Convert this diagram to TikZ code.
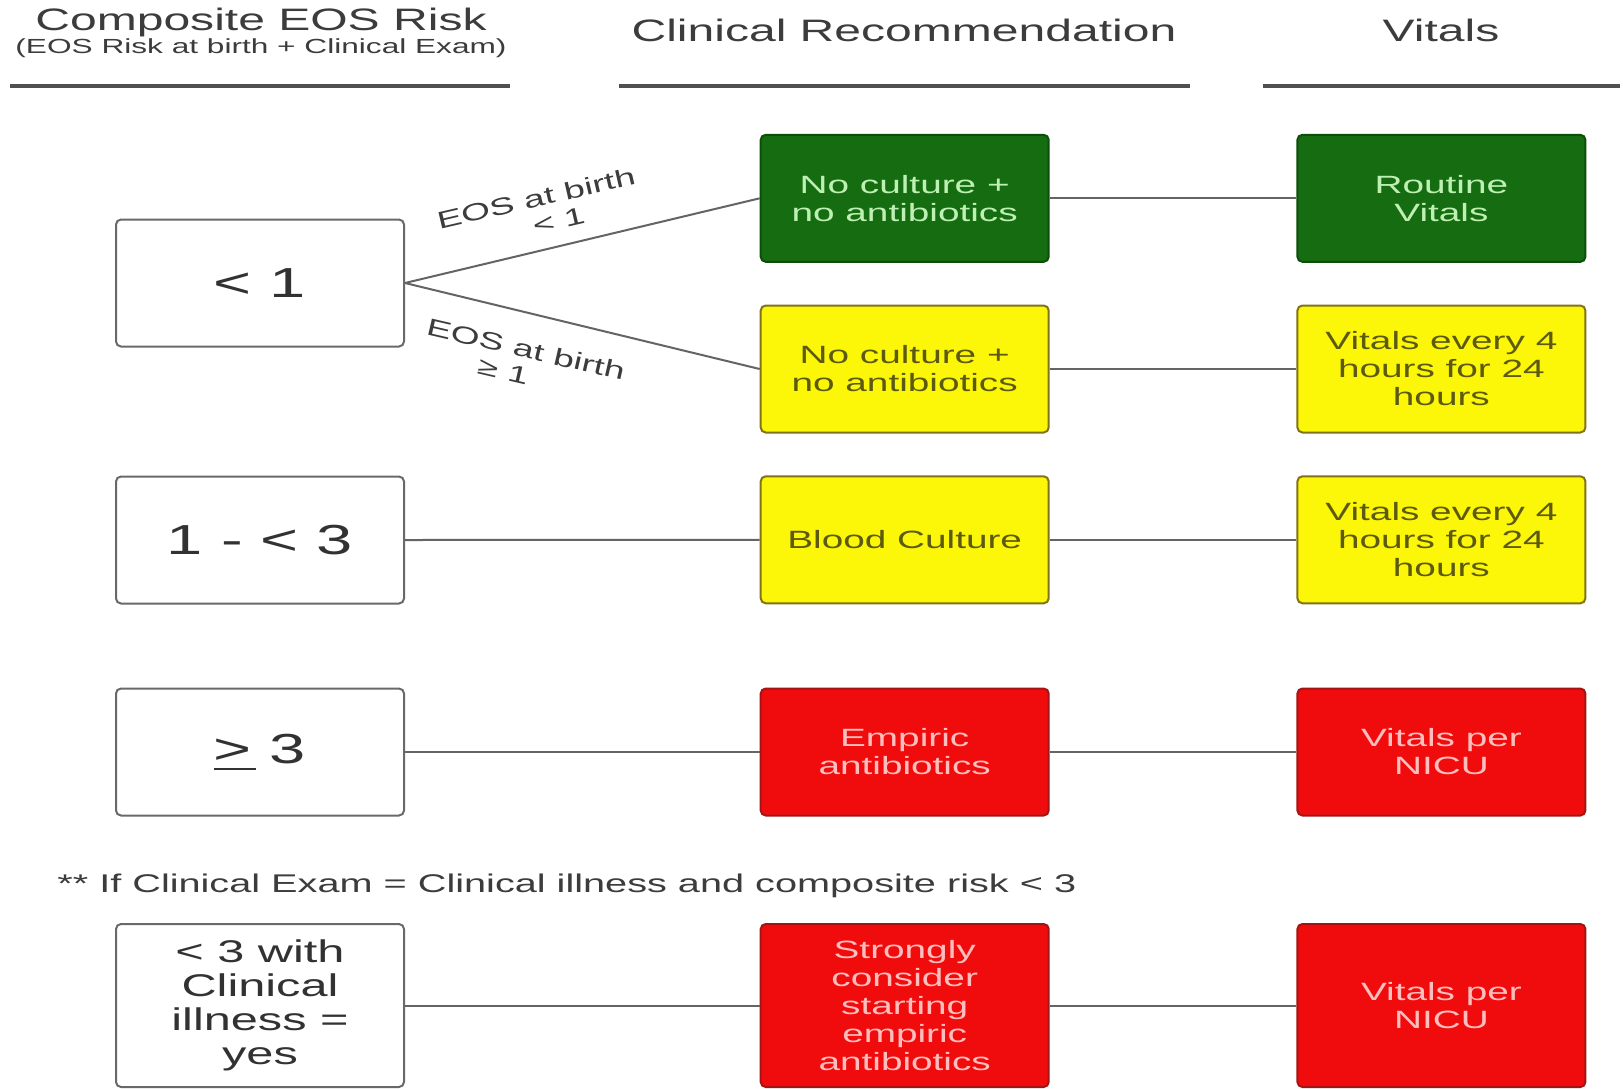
\documentclass[tikz,border=0pt]{standalone}
\usepackage{fontspec}
\setmainfont{Liberation Sans}[FakeStretch=1.55]
\definecolor{riskline}{RGB}{105,105,105}
\definecolor{risktext}{RGB}{50,50,50}
\definecolor{gfill}{RGB}{22,108,16}
\definecolor{gline}{RGB}{12,78,10}
\definecolor{gtext}{RGB}{190,240,180}
\definecolor{yfill}{RGB}{252,246,8}
\definecolor{yline}{RGB}{130,115,20}
\definecolor{ytext}{RGB}{92,90,15}
\definecolor{rfill}{RGB}{240,12,12}
\definecolor{rline}{RGB}{165,20,20}
\definecolor{rtext}{RGB}{255,190,190}
\definecolor{connc}{RGB}{100,100,100}
\definecolor{hdrc}{RGB}{60,60,60}
\definecolor{hlinec}{RGB}{80,80,80}
\newcommand\gebar{\setbox0\hbox{>}\rlap{\rule[-3.5pt]{1.1\wd0}{1.3pt}}\box0}
\begin{document}
\begin{tikzpicture}[x=0.5pt,y=-0.5pt,
 box/.style={rounded corners=2.5pt, line width=1pt, minimum width=144pt, minimum height=63.5pt, inner sep=0pt, align=center, font=\fontsize{12.5}{14}\selectfont},
 risk/.style={box, draw=riskline, fill=white, text=risktext, font=\fontsize{21}{24}\selectfont},
 gbox/.style={box, draw=gline, fill=gfill, text=gtext},
 ybox/.style={box, draw=yline, fill=yfill, text=ytext},
 rbox/.style={box, draw=rline, fill=rfill, text=rtext},
 tallbox/.style={minimum height=81.5pt},
 conn/.style={draw=connc, line width=1pt},
 hdr/.style={text=hdrc, inner sep=0pt, font=\fontsize{15.5}{18}\selectfont},
 hline/.style={draw=hlinec, line width=2pt},
 lbl/.style={text=hdrc, inner sep=0pt, align=center, font=\fontsize{12}{13.2}\selectfont}
]
\path[use as bounding box] (0,0) rectangle (1623,1088);
\clip (0,0) rectangle (1623,1088);
\fill[white] (0,0) rectangle (1623,1088);

% headers
\node[hdr, anchor=base] (h1) at (261,30) {Composite EOS Risk};
\node[hdr, anchor=base, font=\fontsize{10.2}{12}\selectfont] (h1s) at (261,53) {(EOS Risk at birth + Clinical Exam)};
\node[hdr, anchor=base] (h2) at (904,41) {Clinical Recommendation};
\node[hdr, anchor=base] (h3) at (1441,41) {Vitals};
\coordinate (l1a) at (10,86);  \coordinate (l1b) at (510,86);
\coordinate (l2a) at (619,86); \coordinate (l2b) at (1190,86);
\coordinate (l3a) at (1263,86); \coordinate (l3b) at (1620,86);
\draw[hline] (l1a) -- (l1b);
\draw[hline] (l2a) -- (l2b);
\draw[hline] (l3a) -- (l3b);

% risk boxes
\node[risk] (r1) at (260,283) {< 1};
\node[risk] (r3) at (260,540) {1 - < 3};
\node[risk] (r4) at (260,752) {\gebar\ 3};
\node[risk, tallbox, font=\fontsize{15.7}{17}\selectfont] (r5) at (260,1005.5) {< 3 with\\Clinical\\illness =\\yes};

% recommendation boxes
\node[gbox] (m1) at (904.7,198.3) {No culture +\\no antibiotics};
\node[ybox] (m2) at (904.7,369) {No culture +\\no antibiotics};
\node[ybox] (m3) at (904.7,539.8) {Blood Culture};
\node[rbox] (m4) at (904.7,752) {Empiric\\antibiotics};
\node[rbox, tallbox] (m5) at (904.7,1005.5) {Strongly\\consider\\starting\\empiric\\antibiotics};

% vitals boxes
\node[gbox] (v1) at (1441.4,198.3) {Routine\\Vitals};
\node[ybox] (v2) at (1441.4,369) {Vitals every 4\\hours for 24\\hours};
\node[ybox] (v3) at (1441.4,539.8) {Vitals every 4\\hours for 24\\hours};
\node[rbox] (v4) at (1441.4,752) {Vitals per\\NICU};
\node[rbox, tallbox] (v5) at (1441.4,1005.5) {Vitals per\\NICU};

% connectors
\draw[conn] (r1.east) -- (m1.west);
\draw[conn] (r1.east) -- (m2.west);
\draw[conn] (m1.east) -- (v1.west);
\draw[conn] (m2.east) -- (v2.west);
\draw[conn] (r3.east) -- (m3.west);
\draw[conn] (m3.east) -- (v3.west);
\draw[conn] (r4.east) -- (m4.west);
\draw[conn] (m4.east) -- (v4.west);
\draw[conn] (r5.east) -- (m5.west);
\draw[conn] (m5.east) -- (v5.west);

% branch labels
\node[lbl, rotate=13] (la) at (539,211) {EOS at birth\\\hspace*{17pt}< 1};
\node[lbl, rotate=-13] (lb) at (523,362) {EOS at birth\\≥ 1\hspace*{17pt}};

% footnote
\node[lbl, anchor=base west, font=\fontsize{12.8}{15}\selectfont] (fn) at (57,892) {** If Clinical Exam = Clinical illness and composite risk < 3};
\end{tikzpicture}
\end{document}
